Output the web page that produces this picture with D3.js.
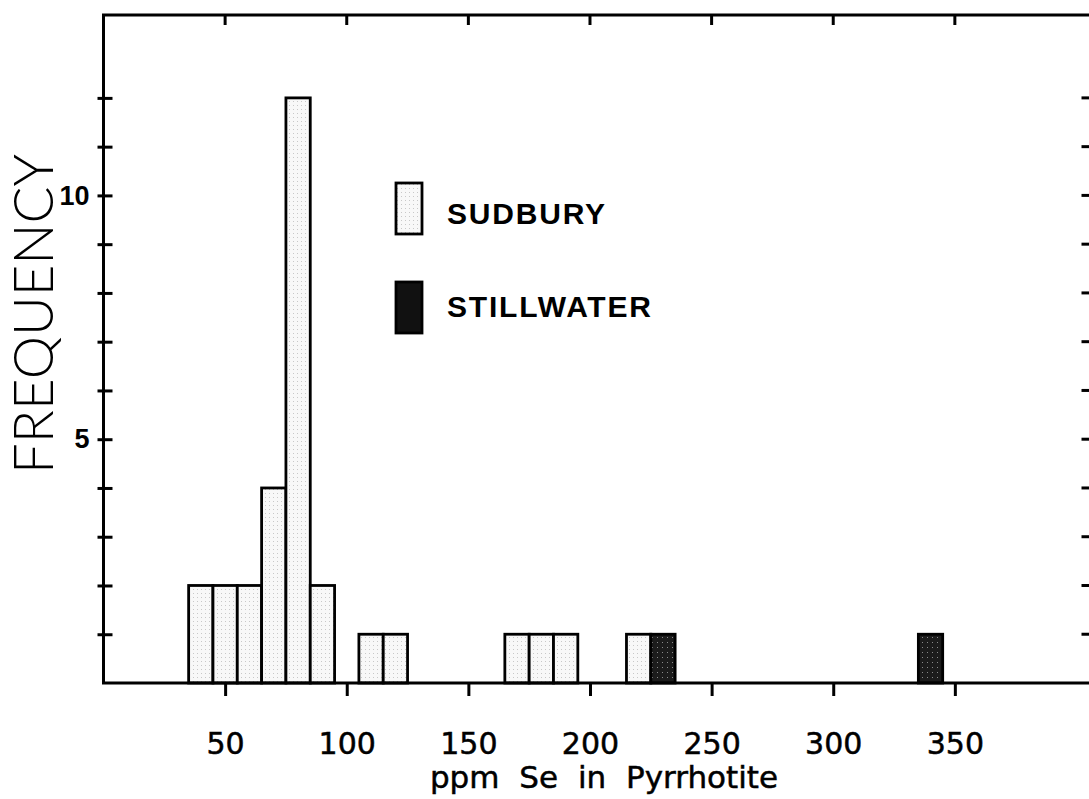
<!DOCTYPE html>
<html lang="en">
<head>
  <meta charset="UTF-8">
  <title>ppm Se in Pyrrhotite</title>
  <style>
    body { margin: 0; background: #fff; }
    svg { display: block; }
    .frame { stroke: #000; stroke-width: 3; fill: none; }
    .tick-mark { stroke: #000; stroke-width: 3; }
    .bar { stroke: #000; stroke-width: 2.8; }
    .num { font-family: "DejaVu Sans", Lato, sans-serif; fill: #000; stroke: #000; stroke-width: 0.5; }
    .legend-text { font-family: "Liberation Sans", Arial, sans-serif; font-weight: bold; font-size: 30px; letter-spacing: 1.8px; }
  </style>
</head>
<body>
  <svg></svg>
<script src="https://cdn.jsdelivr.net/npm/d3@7"></script>
<script>
  // histogram bins (centre of each 10 ppm bin) and counts
  let sudburyBins = [40, 50, 60, 70, 80, 90, 110, 120, 170, 180, 190, 220];
  let sudburyCounts = [2, 2, 2, 4, 12, 2, 1, 1, 1, 1, 1, 1];
  let stillwaterBins = [230, 340];
  let stillwaterCounts = [1, 1];
  let binWidth = 10;

  let xTicks = [50, 100, 150, 200, 250, 300, 350];
  let yTicks = [1, 2, 3, 4, 5, 6, 7, 8, 9, 10, 11, 12];
  let yLabels = [5, 10];

  let width = 1089,
    height = 799;

  let svg = d3.select('svg')
    .attr('width', width)
    .attr('height', height);

  let x = d3.scaleLinear().domain([0, 407]).range([103.5, 1093.5]);
  let y = d3.scaleLinear().domain([0, 13.7]).range([683, 15]);

  let defs = svg.append('defs');

  let light = defs.append('pattern')
    .attr('id', 'light')
    .attr('width', 4).attr('height', 4)
    .attr('patternUnits', 'userSpaceOnUse');
  light.append('rect').attr('width', 4).attr('height', 4).attr('fill', '#f8f8f8');
  light.append('rect').attr('x', 1).attr('y', 1).attr('width', 1).attr('height', 1).attr('fill', '#c8c8c8');

  let dark = defs.append('pattern')
    .attr('id', 'dark')
    .attr('width', 5).attr('height', 5)
    .attr('patternUnits', 'userSpaceOnUse');
  dark.append('rect').attr('width', 5).attr('height', 5).attr('fill', '#1c1c1c');
  dark.append('rect').attr('x', 2).attr('y', 2).attr('width', 1).attr('height', 1).attr('fill', '#8a8a8a');

  // bars
  let sudbury = sudburyBins.map((b, i) => ({ bin: b, count: sudburyCounts[i] }));
  let stillwater = stillwaterBins.map((b, i) => ({ bin: b, count: stillwaterCounts[i] }));

  svg.selectAll('.sudbury')
    .data(sudbury)
    .enter()
    .append('rect')
    .attr('class', 'bar sudbury')
    .attr('x', d => x(d.bin - binWidth / 2))
    .attr('width', d => x(d.bin + binWidth / 2) - x(d.bin - binWidth / 2))
    .attr('y', d => y(d.count))
    .attr('height', d => y(0) - y(d.count))
    .attr('fill', 'url(#light)');

  svg.selectAll('.stillwater')
    .data(stillwater)
    .enter()
    .append('rect')
    .attr('class', 'bar stillwater')
    .attr('x', d => x(d.bin - binWidth / 2))
    .attr('width', d => x(d.bin + binWidth / 2) - x(d.bin - binWidth / 2))
    .attr('y', d => y(d.count))
    .attr('height', d => y(0) - y(d.count))
    .attr('fill', 'url(#dark)');

  // frame
  svg.append('path')
    .attr('class', 'frame')
    .attr('d', `M${x.range()[1]},${y(0)} H${x(0)} V${y.range()[1]} H${x.range()[1]} V${y(0)}`);

  // bottom axis
  let xAxis = svg.append('g')
    .attr('transform', `translate(0,${y(0)})`)
    .call(d3.axisBottom(x).tickValues(xTicks).tickSize(13).tickSizeOuter(0).tickPadding(37));
  xAxis.select('.domain').remove();
  xAxis.selectAll('line').attr('class', 'tick-mark').attr('stroke', null);
  xAxis.selectAll('text').attr('class', 'num').style('font-size', '30px');

  // top ticks
  svg.selectAll('.top-tick')
    .data(xTicks)
    .enter()
    .append('line')
    .attr('class', 'tick-mark')
    .attr('x1', d => x(d)).attr('x2', d => x(d))
    .attr('y1', y.range()[1]).attr('y2', y.range()[1] + 10);

  // left axis: ticks cross the axis line
  let yAxis = svg.append('g')
    .attr('transform', `translate(${x(0)},0)`)
    .call(d3.axisLeft(y).tickValues(yTicks).tickSize(6).tickSizeOuter(0).tickPadding(8)
      .tickFormat(d => yLabels.includes(d) ? d : ''));
  yAxis.select('.domain').remove();
  yAxis.selectAll('line').attr('class', 'tick-mark').attr('stroke', null).attr('x2', 9).attr('x1', -6);
  yAxis.selectAll('text')
    .style('font-family', '"Liberation Sans", Arial, sans-serif')
    .style('font-weight', 'bold')
    .style('font-size', '27px')
    .attr('fill', '#000');

  // right ticks
  svg.selectAll('.right-tick')
    .data(yTicks)
    .enter()
    .append('line')
    .attr('class', 'tick-mark')
    .attr('x1', x.range()[1]).attr('x2', x.range()[1] - 12)
    .attr('y1', d => y(d)).attr('y2', d => y(d));

  // axis titles
  svg.append('text')
    .attr('class', 'num')
    .attr('x', 604)
    .attr('y', 788)
    .attr('text-anchor', 'middle')
    .style('font-size', '31px')
    .style('word-spacing', '10px')
    .text('ppm Se in Pyrrhotite');

  svg.append('text')
    .attr('transform', 'translate(53,314) rotate(-90)')
    .attr('text-anchor', 'middle')
    .attr('textLength', 320)
    .attr('lengthAdjust', 'spacingAndGlyphs')
    .style('font-family', 'Lato, "DejaVu Sans", sans-serif')
    .style('font-weight', 300)
    .style('font-size', '55px')
    .text('FREQUENCY');

  // legend
  let legend = [
    { label: 'SUDBURY', fill: 'url(#light)', y: 183, base: 41 },
    { label: 'STILLWATER', fill: '#111', y: 282, base: 35 }
  ];

  let lg = svg.selectAll('.legend')
    .data(legend)
    .enter()
    .append('g')
    .attr('transform', d => `translate(396,${d.y})`);

  lg.append('rect')
    .attr('class', 'bar')
    .attr('width', 26)
    .attr('height', 51)
    .attr('fill', d => d.fill);

  lg.append('text')
    .attr('class', 'legend-text')
    .attr('x', 51)
    .attr('y', d => d.base)
    .text(d => d.label);
</script>
</body>
</html>
